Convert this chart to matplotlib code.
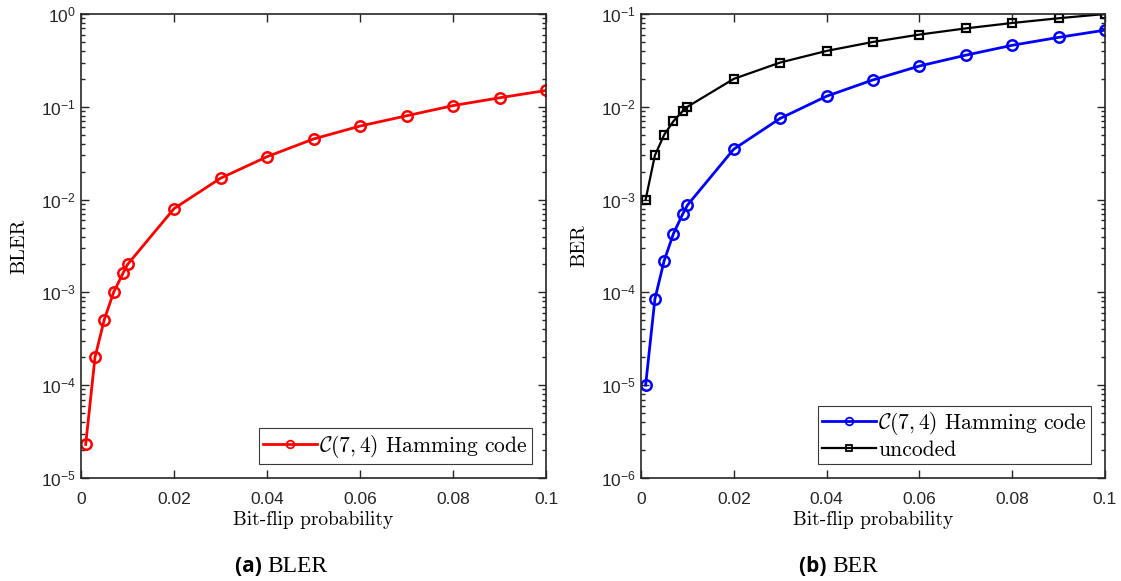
import matplotlib
matplotlib.use('Agg')
import matplotlib.pyplot as plt
import numpy as np
from matplotlib.ticker import LogLocator, FixedLocator, FixedFormatter, NullFormatter

plt.rcParams['font.family'] = ['Liberation Sans', 'DejaVu Sans']
plt.rcParams['mathtext.fontset'] = 'cm'
plt.rcParams['axes.unicode_minus'] = False

# bit-flip probabilities
p = [0.001, 0.003, 0.005, 0.007, 0.009, 0.01, 0.02, 0.03, 0.04,
     0.05, 0.06, 0.07, 0.08, 0.09, 0.1]

# block error rate, Hamming (7,4)
bler = [2.3e-5, 2.0e-4, 5.1e-4, 1.0e-3, 1.6e-3, 2.0e-3, 8.0e-3, 1.7e-2,
        2.9e-2, 4.5e-2, 6.2e-2, 8.0e-2, 1.03e-1, 1.25e-1, 1.5e-1]

# bit error rate, Hamming (7,4) and uncoded
ber_coded = [1.0e-5, 8.5e-5, 2.2e-4, 4.3e-4, 7.0e-4, 8.7e-4, 3.5e-3, 7.5e-3,
             1.3e-2, 1.95e-2, 2.75e-2, 3.6e-2, 4.6e-2, 5.6e-2, 6.7e-2]
ber_uncoded = [1e-3, 3e-3, 5e-3, 7e-3, 9e-3, 1e-2, 2e-2, 3e-2, 4e-2,
               5e-2, 6e-2, 7e-2, 8e-2, 9e-2, 1e-1]

xticks = [0, 0.02, 0.04, 0.06, 0.08, 0.1]
xticklabels = ['0', '0.02', '0.04', '0.06', '0.08', '0.1']

serif = 'cmr10'
legend_label = r'$\mathcal{C}(7,4)$ Hamming code'

fig = plt.figure(figsize=(11.21, 5.81), dpi=100)
ax1 = fig.add_axes([0.0723, 0.1773, 0.4148, 0.7986])
ax2 = fig.add_axes([0.5718, 0.1773, 0.4139, 0.7986])


def style_axes(ax, ylim, ylabel):
    ax.set_yscale('log')
    ax.set_xlim(0, 0.1)
    ax.set_ylim(*ylim)
    ax.xaxis.set_major_locator(FixedLocator(xticks))
    ax.xaxis.set_major_formatter(FixedFormatter(xticklabels))
    ax.yaxis.set_major_locator(LogLocator(base=10, numticks=20))
    ax.yaxis.set_minor_locator(LogLocator(base=10, subs=np.arange(2, 10), numticks=20))
    ax.yaxis.set_minor_formatter(NullFormatter())
    ax.tick_params(which='both', direction='in', top=True, right=True,
                   labelsize=12.5, width=1.0, colors='#262626', labelcolor='#262626')
    ax.tick_params(which='major', length=6)
    ax.tick_params(which='minor', length=3)
    ax.tick_params(axis='x', pad=10)
    for s in ax.spines.values():
        s.set_linewidth(1.2)
        s.set_color('#262626')
    ax.set_xlabel('Bit-flip probability', fontfamily=serif, fontsize=14, labelpad=3)
    ax.set_ylabel(ylabel, fontfamily=serif, fontsize=14.5, labelpad=9)


def style_legend(leg, sizes):
    frame = leg.get_frame()
    frame.set_linewidth(0.8)
    frame.set_edgecolor('#3a3a3a')
    # smaller, thinner open markers in the legend keys
    for h, ms in zip(leg.legend_handles, sizes):
        h.set_markersize(ms)
        h.set_markeredgewidth(1.3)


leg_kw = dict(loc='lower right', prop={'family': serif, 'size': 15.5},
              fancybox=False, framealpha=1, borderaxespad=0.65,
              handlelength=2.5, handletextpad=0.1, borderpad=0.2,
              labelspacing=0.15)

ax1.plot(p, bler, color='red', lw=2, marker='o', ms=7.5, mfc='none', mew=1.8,
         label=legend_label)
style_axes(ax1, (1e-5, 1), 'BLER')
style_legend(ax1.legend(**leg_kw), [5.5])

ax2.plot(p, ber_coded, color='blue', lw=2, marker='o', ms=7.5, mfc='none', mew=1.8,
         label=legend_label)
ax2.plot(p, ber_uncoded, color='black', lw=1.6, marker='s', ms=6, mfc='none', mew=1.6,
         label='uncoded')
style_axes(ax2, (1e-6, 1e-1), 'BER')
style_legend(ax2.legend(**leg_kw), [5.5, 5])

# sub-captions
for xc, tag, name in [(0.2382, '(a)', 'BLER'), (0.7422, '(b)', 'BER')]:
    fig.text(xc, 0.0155, tag + ' ', fontfamily='Open Sans', fontweight='bold',
             fontsize=15, ha='right', va='baseline')
    fig.text(xc, 0.0155, name, fontfamily='Liberation Serif', fontsize=17,
             ha='left', va='baseline')

fig.savefig('out.png', dpi=100)
